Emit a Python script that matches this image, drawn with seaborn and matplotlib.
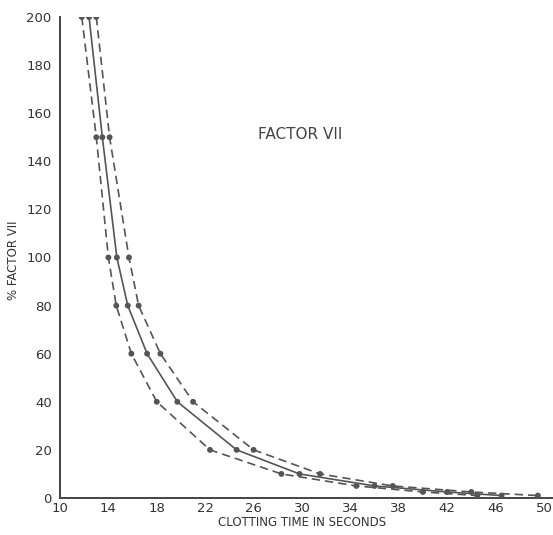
import matplotlib
matplotlib.use("Agg")
import matplotlib.pyplot as plt
import seaborn as sns
import pandas as pd

# Data
pct_levels = [200, 150, 100, 80, 60, 40, 20, 10, 5, 2.5, 1]
time_lower = [11.8, 13.0, 14.0, 14.65, 15.9, 18.0, 22.4, 28.3, 34.5, 40.0, 44.5]
time_mean = [12.4, 13.5, 14.7, 15.6, 17.2, 19.7, 24.6, 29.8, 36.0, 42.0, 46.5]
time_upper = [13.0, 14.1, 15.7, 16.5, 18.3, 21.0, 26.0, 31.5, 37.5, 44.0, 49.5]
x_ticks = [10, 14, 18, 22, 26, 30, 34, 38, 42, 46, 50]
y_ticks = [0, 20, 40, 60, 80, 100, 120, 140, 160, 180, 200]

sns.set_style("white")
plt.rcParams['font.family'] = ['DejaVu Sans']

fig = plt.figure(figsize=(5.53, 5.35), dpi=100)
ax = fig.add_axes([0.1085, 0.0692, 0.8915, 0.899])

col = "#555555"
series = [("lower", time_lower, (0, (5, 3))),
          ("mean", time_mean, "-"),
          ("upper", time_upper, (0, (5, 3)))]
for name, xs, ls in series:
    df = pd.DataFrame({"time": xs, "pct": pct_levels})
    sns.lineplot(data=df, x="time", y="pct", sort=False, ax=ax, color=col,
                 linewidth=1.2, linestyle=ls, estimator=None)
    sns.scatterplot(data=df, x="time", y="pct", ax=ax, color=col, s=18,
                    edgecolor="none", zorder=3)

ax.set_xlim(10, 50.75)
ax.set_ylim(0, 200)
ax.set_xticks(x_ticks)
ax.set_yticks(y_ticks)
ax.tick_params(direction="in", length=5, width=1.1, colors="#333333",
               labelsize=9.5)
ax.tick_params(axis="x", pad=3)
ax.tick_params(axis="y", pad=6)
for s in ["top", "right"]:
    ax.spines[s].set_visible(False)
for s in ["left", "bottom"]:
    ax.spines[s].set_color("#444444")
    ax.spines[s].set_linewidth(1.4)

ax.set_xlabel("CLOTTING TIME IN SECONDS", fontsize=8.5, color="#333333")
ax.xaxis.set_label_coords(0.49, -0.038)
ax.set_ylabel("% FACTOR VII", fontsize=8.5, color="#333333")
ax.yaxis.set_label_coords(-0.082, 0.495)
ax.text(26.4, 151, "FACTOR VII", fontsize=11, color="#444444", va="center")

fig.savefig("out.png", dpi=100)
